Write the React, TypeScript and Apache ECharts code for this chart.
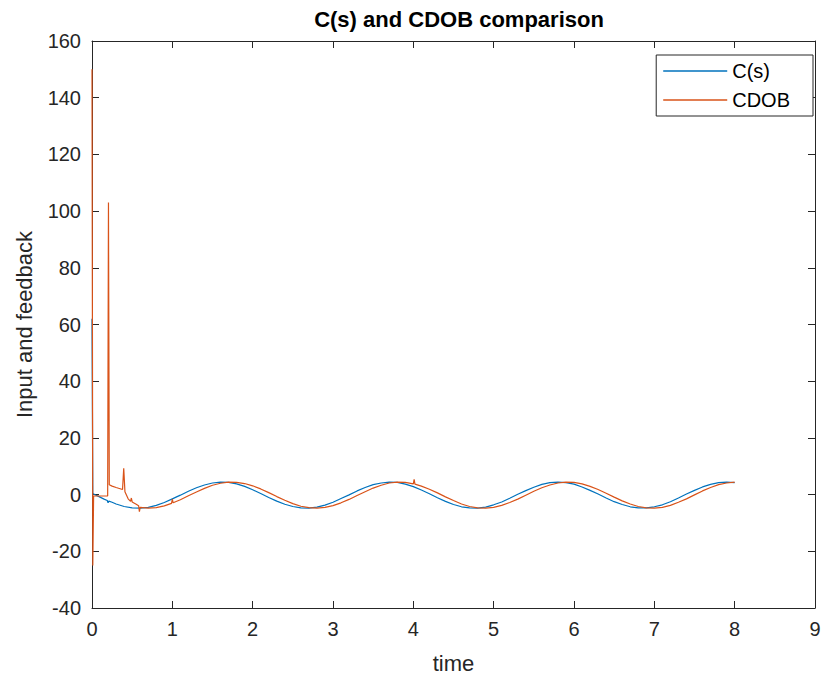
import React, { useEffect, useRef } from "react";
import * as echarts from "echarts";

// C(s) response: time (s) and value
const cTime = [
  0, 0.01, 0.05, 0.1, 0.15, 0.19, 0.2, 0.21, 0.25, 0.3, 0.4, 0.5,
  0.6, 0.7, 0.8, 0.9, 1.0, 1.1, 1.2, 1.3, 1.4, 1.5, 1.6, 1.7, 1.8, 1.9,
  2.0, 2.1, 2.2, 2.3, 2.4, 2.5, 2.6, 2.7, 2.8, 2.9, 3.0, 3.1, 3.2, 3.3,
  3.4, 3.5, 3.6, 3.7, 3.8, 3.9, 4.0, 4.1, 4.2, 4.3, 4.4, 4.5, 4.6, 4.7,
  4.8, 4.9, 5.0, 5.1, 5.2, 5.3, 5.4, 5.5, 5.6, 5.7, 5.8, 5.9, 6.0, 6.1,
  6.2, 6.3, 6.4, 6.5, 6.6, 6.7, 6.8, 6.9, 7.0, 7.1, 7.2, 7.3, 7.4, 7.5,
  7.6, 7.7, 7.8, 7.9, 8.0,
];
const cValues = [
  62, 0.4, -0.2, -0.9, -1.6, -2.1, -2.9, -2.3, -2.7, -3.3, -4.2, -4.7,
  -4.8, -4.5, -3.8, -2.8, -1.5, -0.2, 1.2, 2.4, 3.4, 4.1, 4.4, 4.3, 3.8, 2.9,
  1.7, 0.4, -1.0, -2.3, -3.4, -4.2, -4.7, -4.8, -4.4, -3.7, -2.7, -1.4, -0.1, 1.3,
  2.5, 3.5, 4.1, 4.4, 4.3, 3.7, 2.8, 1.6, 0.3, -1.1, -2.4, -3.5, -4.3, -4.7,
  -4.8, -4.4, -3.6, -2.6, -1.3, 0.1, 1.4, 2.6, 3.6, 4.2, 4.4, 4.2, 3.7, 2.7,
  1.5, 0.2, -1.2, -2.5, -3.5, -4.3, -4.7, -4.7, -4.3, -3.6, -2.5, -1.2, 0.2, 1.5,
  2.7, 3.6, 4.2, 4.4, 4.2,
];

// CDOB estimate: time (s) and value
const cdobTime = [
  0, 0.01, 0.02, 0.195, 0.205, 0.215, 0.25, 0.3, 0.38, 0.395, 0.41, 0.45,
  0.48, 0.49, 0.5, 0.55, 0.58, 0.59, 0.6, 0.7, 0.8, 0.9, 0.99, 1.0, 1.01,
  1.1, 1.2, 1.3, 1.4, 1.5, 1.6, 1.7, 1.8, 1.9, 2.0, 2.1, 2.2, 2.3, 2.4,
  2.5, 2.6, 2.7, 2.8, 2.9, 3.0, 3.1, 3.2, 3.3, 3.4, 3.5, 3.6, 3.7, 3.8,
  3.9, 4.0, 4.01, 4.02, 4.1, 4.2, 4.3, 4.4, 4.5, 4.6, 4.7, 4.8, 4.9, 5.0,
  5.1, 5.2, 5.3, 5.4, 5.5, 5.6, 5.7, 5.8, 5.9, 6.0, 6.1, 6.2, 6.3, 6.4,
  6.5, 6.6, 6.7, 6.8, 6.9, 7.0, 7.1, 7.2, 7.3, 7.4, 7.5, 7.6, 7.7, 7.8,
  7.9, 8.0,
];
const cdobValues = [
  150, -25, -0.5, -0.5, 103, 3.5, 3.0, 2.5, 1.8, 9.3, 1.0, -1.5,
  -2.4, -1.2, -2.6, -3.4, -3.9, -6.0, -4.5, -4.8, -4.6, -4.0, -3.1, -1.6, -2.9,
  -1.8, -0.4, 0.9, 2.2, 3.3, 4.0, 4.4, 4.3, 3.9, 3.1, 2.0, 0.7, -0.7, -2.0,
  -3.2, -4.1, -4.6, -4.8, -4.5, -3.9, -2.9, -1.7, -0.3, 1.0, 2.3, 3.3, 4.1, 4.4,
  4.3, 3.8, 5.4, 3.7, 3.0, 1.9, 0.6, -0.8, -2.1, -3.3, -4.2, -4.7, -4.8, -4.5,
  -3.8, -2.8, -1.6, -0.2, 1.2, 2.4, 3.4, 4.1, 4.4, 4.3, 3.8, 2.9, 1.8, 0.5,
  -0.9, -2.2, -3.3, -4.2, -4.7, -4.8, -4.5, -3.8, -2.7, -1.5, -0.1, 1.3, 2.5, 3.5,
  4.1, 4.4,
];

const seriesNames = ["C(s)", "CDOB"];
const seriesColors = ["#0072BD", "#D95319"];

const FONT = "'Liberation Sans', Arial, Helvetica, sans-serif";
const INK = "#262626";

function pairs(t: number[], v: number[]) {
  return t.map((x, i) => [x, v[i]]);
}

export default function App() {
  const ref = useRef<HTMLDivElement>(null);

  useEffect(() => {
    if (!ref.current) return;
    const chart = echarts.init(ref.current, undefined, { renderer: "svg" });

    // boxed frame: every side carries a line and inward ticks
    const frameAxis = {
      axisLine: { show: true, onZero: false, lineStyle: { color: INK, width: 1 } },
      axisTick: { show: true, inside: true, length: 7, lineStyle: { color: INK, width: 1 } },
      splitLine: { show: false },
    };

    chart.setOption({
      animation: false,
      backgroundColor: "#ffffff",
      title: {
        text: "C(s) and CDOB comparison",
        left: 454,
        textAlign: "center",
        top: 3,
        textStyle: { fontFamily: FONT, fontSize: 22, fontWeight: "bold", color: "#000000" },
      },
      legend: {
        orient: "vertical",
        right: 11,
        top: 55,
        data: seriesNames,
        icon: "rect",
        itemWidth: 64,
        itemHeight: 1.5,
        itemGap: 9,
        itemTextGap: 5,
        padding: [6, 23, 6, 7],
        backgroundColor: "#ffffff",
        borderColor: INK,
        borderWidth: 1,
        borderRadius: 0,
        textStyle: { fontFamily: FONT, fontSize: 20, color: "#000000", lineHeight: 20 },
      },
      grid: { left: 92, right: 9, top: 41, bottom: 73, containLabel: false },
      xAxis: [
        {
          type: "value",
          min: 0,
          max: 9,
          interval: 1,
          name: "time",
          nameLocation: "middle",
          nameGap: 44,
          nameTextStyle: { fontFamily: FONT, fontSize: 22, color: INK },
          axisLabel: { fontFamily: FONT, fontSize: 20, color: INK, margin: 11 },
          ...frameAxis,
        },
        {
          type: "value",
          position: "top",
          min: 0,
          max: 9,
          interval: 1,
          axisLabel: { show: false },
          ...frameAxis,
        },
      ],
      yAxis: [
        {
          type: "value",
          min: -40,
          max: 160,
          interval: 20,
          name: "Input and feedback",
          nameLocation: "middle",
          nameRotate: 90,
          nameGap: 57,
          nameTextStyle: { fontFamily: FONT, fontSize: 22, color: INK },
          axisLabel: { fontFamily: FONT, fontSize: 20, color: INK, margin: 11 },
          ...frameAxis,
        },
        {
          type: "value",
          position: "right",
          min: -40,
          max: 160,
          interval: 20,
          axisLabel: { show: false },
          ...frameAxis,
        },
      ],
      series: [
        {
          name: seriesNames[0],
          type: "line",
          data: pairs(cTime, cValues),
          showSymbol: false,
          symbol: "none",
          lineStyle: { color: seriesColors[0], width: 1.2 },
          itemStyle: { color: seriesColors[0] },
        },
        {
          name: seriesNames[1],
          type: "line",
          data: pairs(cdobTime, cdobValues),
          showSymbol: false,
          symbol: "none",
          lineStyle: { color: seriesColors[1], width: 1.2 },
          itemStyle: { color: seriesColors[1] },
        },
      ],
    });

    return () => chart.dispose();
  }, []);

  return (
    <div
      ref={ref}
      style={{ position: "fixed", left: 0, top: 0, width: 824, height: 681, background: "#fff" }}
    />
  );
}
